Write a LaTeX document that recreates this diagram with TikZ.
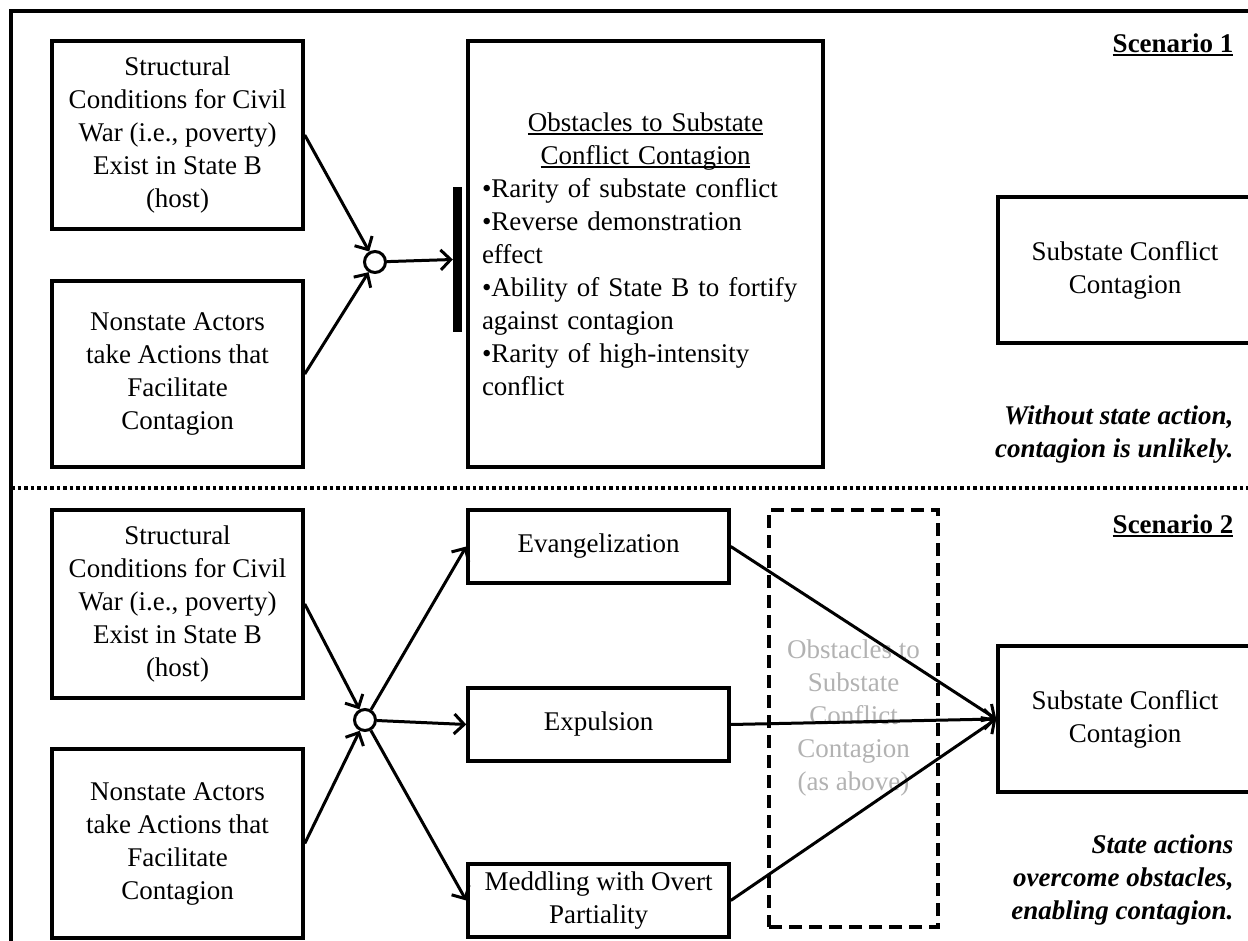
\documentclass[tikz,border=0pt]{standalone}
\usepackage{fontspec}
\setmainfont{Liberation Serif}
\usetikzlibrary{arrows.meta}
\newcommand{\ultext}[1]{\setbox0\hbox{#1}\rlap{\rule[-4pt]{\wd0}{2.2pt}}\box0}

\begin{document}
\begin{tikzpicture}[x=1pt,y=-1pt,
  >={Straight Barb[length=10pt,width=20pt]},
  every node/.style={font=\fontsize{27}{33}\selectfont},
  box/.style={draw,line width=3.5pt,align=center,inner sep=0pt},
  hub/.style={circle,draw,line width=3pt,fill=white,minimum size=21pt,inner sep=0pt},
  link/.style={->,line width=3pt},
  note/.style={anchor=east,align=right,font=\fontsize{27}{33}\selectfont\bfseries\itshape}]
\useasboundingbox (0,0) rectangle (1248,941);
\draw[line width=3.5pt] (11,960) -- (11,11) -- (1260,11);
\draw[line width=3.5pt,dash pattern=on 3.5pt off 3pt] (11,488) -- (1260,488);

\node[box,minimum width=251pt,minimum height=188pt] (sc1) at (177.5,135)
  {Structural\\Conditions for Civil\\War (i.e., poverty)\\Exist in State B\\(host)};
\node[box,minimum width=251pt,minimum height=186pt] (na1) at (177.5,374)
  {Nonstate Actors\\take Actions that\\Facilitate\\Contagion};
\node[hub] (j1) at (375,262) {};
\node[fill,minimum width=9pt,minimum height=145pt,inner sep=0pt] (bar) at (457.5,259.5) {};
\node[box,minimum width=355pt,minimum height=426pt,text width=327pt,align=left] (obs1) at (645.5,254)
  {\noindent\makebox[\hsize]{\ultext{Obstacles to Substate}}\\
   \makebox[\hsize]{\ultext{Conflict Contagion}}\\
   •Rarity of substate conflict\\•Reverse demonstration\\effect\\
   •Ability of State B to fortify\\against contagion\\
   •Rarity of high-intensity\\conflict};
\node[box,minimum width=254pt,minimum height=146pt] (cc1) at (1125,270) {Substate Conflict\\Contagion};
\node[anchor=east,font=\fontsize{27}{33}\selectfont\bfseries] (s1) at (1237,45) {\ultext{Scenario 1}};
\node[note] (n1) at (1237,435) {Without state action,\\contagion is unlikely.};
\draw[link] (sc1.east) -- (j1);
\draw[link] (na1.east) -- (j1);
\draw[link] (j1) -- (bar.west);

\node[box,minimum width=251pt,minimum height=188pt] (sc2) at (177.5,604)
  {Structural\\Conditions for Civil\\War (i.e., poverty)\\Exist in State B\\(host)};
\node[box,minimum width=251pt,minimum height=189pt] (na2) at (177.5,843.5)
  {Nonstate Actors\\take Actions that\\Facilitate\\Contagion};
\node[hub] (j2) at (365,720) {};
\node[box,minimum width=261pt,minimum height=73pt] (ev) at (598.5,546.5) {Evangelization};
\node[box,minimum width=261pt,minimum height=73pt] (ex) at (598.5,724.5) {Expulsion};
\node[box,minimum width=261pt,minimum height=73pt] (md) at (598.5,900.5) {Meddling with Overt\\Partiality};
\node[draw,line width=3.5pt,dash pattern=on 13pt off 7pt,minimum width=169pt,minimum height=417pt,
  text=gray!60,align=center,inner sep=0pt] (obs2) at (853.5,718.5)
  {Obstacles to\\Substate\\Conflict\\Contagion\\(as above)};
\node[box,minimum width=254pt,minimum height=146pt] (cc2) at (1125,719) {Substate Conflict\\Contagion};
\node[anchor=east,font=\fontsize{27}{33}\selectfont\bfseries] (s2) at (1237,526) {\ultext{Scenario 2}};
\node[note] (n2) at (1237,880) {State actions\\overcome obstacles,\\enabling contagion.};
\draw[link] (sc2.east) -- (j2);
\draw[link] (na2.east) -- (j2);
\foreach \b in {ev,ex,md} \draw[link] (j2) -- (\b.west);
\foreach \b in {ev,ex,md} \draw[link] (\b.east) -- (cc2.west);
\end{tikzpicture}
\end{document}
